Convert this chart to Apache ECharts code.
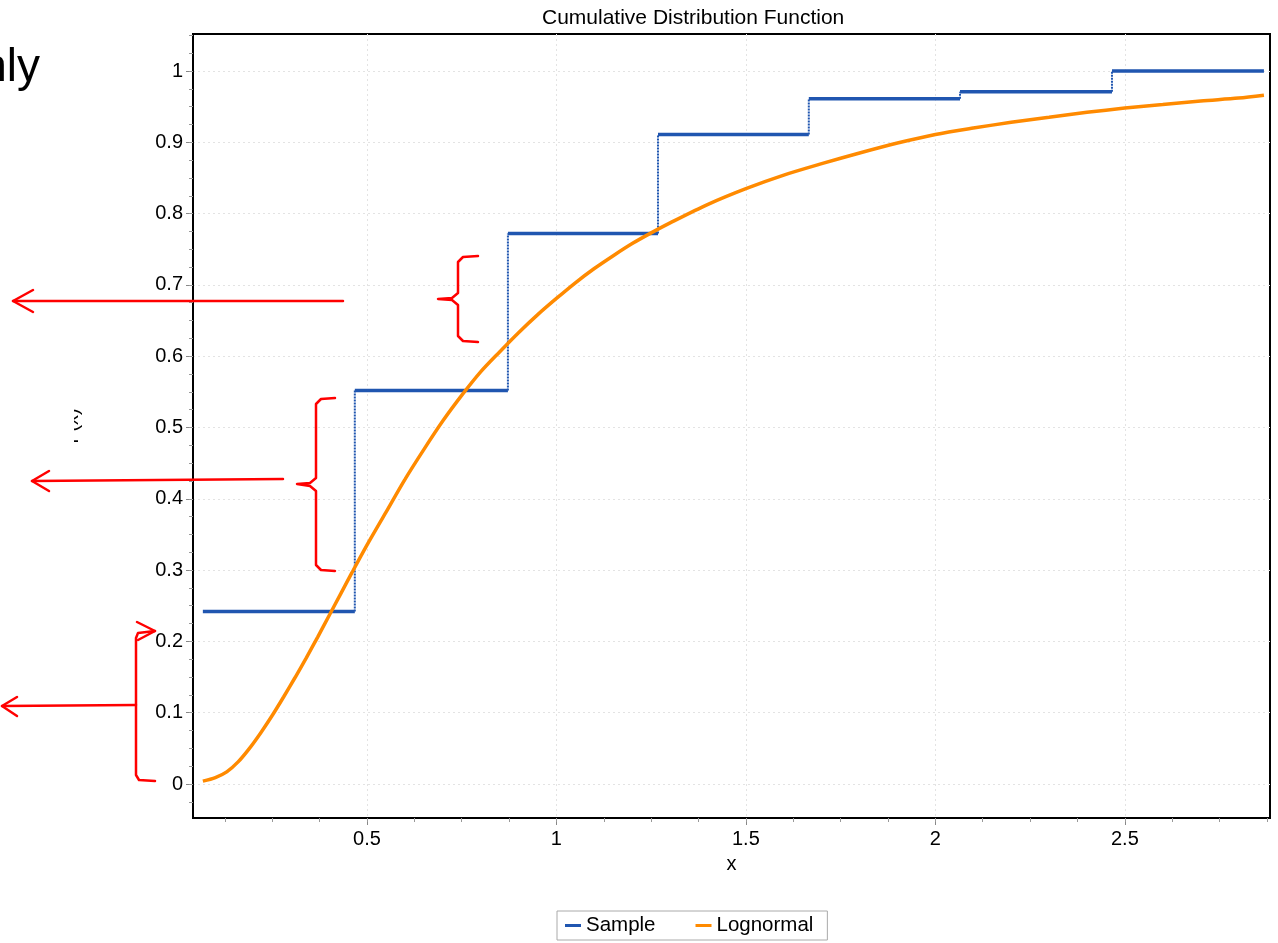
<!DOCTYPE html>
<html><head><meta charset="utf-8">
<script src="https://cdn.jsdelivr.net/npm/echarts@6/dist/echarts.min.js"></script>
<style>html,body{margin:0;padding:0;background:#fff}#c{width:1278px;height:943px}</style>
</head><body><div id="c"></div>
<script>
// Sample (empirical CDF) steps
const sampleEdges = [0.067, 0.468, 0.872, 1.268, 1.666, 2.065, 2.466, 2.867];
const sampleCdf = [0.242, 0.552, 0.772, 0.911, 0.961, 0.971, 1.0];
// Lognormal fitted CDF
const lnX = [0.067,0.10,0.13,0.16,0.19,0.22,0.25,0.28,0.31,0.34,0.37,0.40,0.43,0.46,0.50,0.55,0.60,0.65,0.70,0.75,0.80,0.85,0.90,0.95,1.00,1.05,1.10,1.15,1.20,1.25,1.30,1.40,1.50,1.60,1.70,1.80,1.90,2.00,2.10,2.20,2.30,2.40,2.50,2.60,2.70,2.80,2.867];
const lnF = [0.004,0.009,0.017,0.031,0.050,0.072,0.096,0.122,0.149,0.177,0.206,0.236,0.266,0.296,0.335,0.381,0.427,0.469,0.509,0.545,0.578,0.606,0.633,0.658,0.681,0.703,0.723,0.741,0.758,0.773,0.787,0.813,0.835,0.854,0.870,0.885,0.899,0.911,0.920,0.928,0.935,0.942,0.948,0.953,0.958,0.962,0.966];
// Tick labels
const xTickLabels = [0.5, 1, 1.5, 2, 2.5];
const yTickLabels = [0, 0.1, 0.2, 0.3, 0.4, 0.5, 0.6, 0.7, 0.8, 0.9, 1];
const xMinorTicks = [];
for (let k = 1; k <= 23; k++) xMinorTicks.push(+(k * 0.125).toFixed(3));
const yMinorTicks = [];
for (let k = -1; k <= 42; k++) yMinorTicks.push(+(k * 0.025).toFixed(3));

const X_MIN = 0.041, X_MAX = 2.883, Y_MIN = -0.0477, Y_MAX = 1.0519;
const FONT = "'Liberation Sans', Arial, sans-serif";
const BLUE = '#2056b0', ORANGE = '#ff8a00', RED = '#ff0000';

const horiz = [];
const vert = [];
for (let i = 0; i < sampleCdf.length; i++) {
  horiz.push([sampleEdges[i], sampleCdf[i]], [sampleEdges[i + 1], sampleCdf[i]], [sampleEdges[i + 1], '-']);
  if (i > 0) vert.push([sampleEdges[i], sampleCdf[i - 1]], [sampleEdges[i], sampleCdf[i]], [sampleEdges[i], '-']);
}
const lnData = lnX.map((x, i) => [x, lnF[i]]);

const chart = echarts.init(document.getElementById('c'), null, {renderer: 'canvas'});
const redLine = {stroke: RED, lineWidth: 2.5, fill: null, lineJoin: 'round', lineCap: 'round'};
function poly(points) {
  return {type: 'polyline', z: 100, shape: {points: points}, style: redLine};
}
chart.setOption({
  animation: false,
  textStyle: {fontFamily: FONT},
  title: {
    text: 'Cumulative Distribution Function', left: 537, top: 3,
    textStyle: {fontSize: 21, fontWeight: 'normal', color: '#000', fontFamily: FONT}
  },
  legend: {
    data: ['Sample', 'Lognormal'], left: 557, top: 911,
    borderColor: '#aaa', borderWidth: 1, padding: [4, 14, 4, 8],
    itemWidth: 16, itemHeight: 3, itemGap: 40, icon: 'rect',
    textStyle: {fontSize: 20.5, color: '#000', fontFamily: FONT}
  },
  grid: {left: 193, top: 34, right: 8, bottom: 125, show: true, borderColor: '#000', borderWidth: 2, containLabel: false},
  xAxis: [{
    type: 'value', min: X_MIN, max: X_MAX,
    name: 'x', nameLocation: 'middle', nameGap: 36,
    nameTextStyle: {fontSize: 20, color: '#000', fontFamily: FONT},
    axisLine: {onZero: false, lineStyle: {color: '#000', width: 2}},
    axisTick: {customValues: xTickLabels, length: 7, lineStyle: {color: '#888', width: 1}},
    axisLabel: {customValues: xTickLabels, fontSize: 20, color: '#000', margin: 11, fontFamily: FONT},
    splitLine: {show: true, lineStyle: {color: '#e3e3e3', type: [2, 3], width: 1}}
  }, {
    type: 'value', min: X_MIN, max: X_MAX, position: 'bottom',
    axisLine: {show: false, onZero: false},
    axisTick: {customValues: xMinorTicks, length: 4, lineStyle: {color: '#999', width: 1}},
    axisLabel: {show: false}, splitLine: {show: false}
  }],
  yAxis: [{
    type: 'value', min: Y_MIN, max: Y_MAX,
    name: 'F(x)', nameLocation: 'middle', nameGap: 111, nameRotate: 90,
    nameTextStyle: {fontSize: 20, color: '#000', fontFamily: FONT},
    axisLine: {onZero: false, lineStyle: {color: '#000', width: 2}},
    axisTick: {customValues: yTickLabels, length: 7, lineStyle: {color: '#888', width: 1}},
    axisLabel: {customValues: yTickLabels, fontSize: 20, color: '#000', margin: 10, fontFamily: FONT},
    splitLine: {show: true, lineStyle: {color: '#e3e3e3', type: [2, 3], width: 1}}
  }, {
    type: 'value', min: Y_MIN, max: Y_MAX, position: 'left',
    axisLine: {show: false, onZero: false},
    axisTick: {customValues: yMinorTicks, length: 4, lineStyle: {color: '#999', width: 1}},
    axisLabel: {show: false}, splitLine: {show: false}
  }],
  series: [
    {name: 'SampleJumps', type: 'line', data: vert, showSymbol: false, silent: true,
     lineStyle: {color: BLUE, width: 2, type: [2, 1]}, itemStyle: {color: BLUE}, z: 2},
    {name: 'Sample', type: 'line', data: horiz, showSymbol: false,
     lineStyle: {color: BLUE, width: 3.5}, itemStyle: {color: BLUE}, z: 3},
    {name: 'Lognormal', type: 'line', data: lnData, showSymbol: false, smooth: 0.3,
     lineStyle: {color: ORANGE, width: 3.5}, itemStyle: {color: ORANGE}, z: 4}
  ],
  graphic: [
    {type: 'rect', z: 90, shape: {x: 0, y: 390, width: 74, height: 80}, style: {fill: '#fff'}},
    {type: 'text', z: 100, style: {text: 'only', x: 40, y: 68, align: 'right', verticalAlign: 'middle', fontSize: 46, fontFamily: FONT, fill: '#000'}},
    // arrow 1
    poly([[343, 301], [13, 301]]),
    poly([[33, 290], [13, 301], [33, 312]]),
    // brace 1
    poly([[478, 256], [463, 257], [458, 262], [458, 293], [452, 298], [438, 299], [452, 300], [458, 305], [458, 336], [463, 341], [478, 342]]),
    // arrow 2
    poly([[283, 479], [32, 481]]),
    poly([[49, 471], [32, 481], [49, 491]]),
    // brace 2
    poly([[335, 398], [321, 399], [316, 404], [316, 478], [310, 483], [297, 484], [310, 486], [316, 491], [316, 565], [321, 570], [335, 571]]),
    // arrow 3 + bracket
    poly([[136, 705], [2, 706]]),
    poly([[17, 697], [2, 706], [17, 716]]),
    poly([[155, 781], [139, 780], [136, 775], [136, 638], [138, 633], [155, 631]]),
    poly([[137, 622], [155, 631], [138, 640]])
  ]
});
</script></body></html>
